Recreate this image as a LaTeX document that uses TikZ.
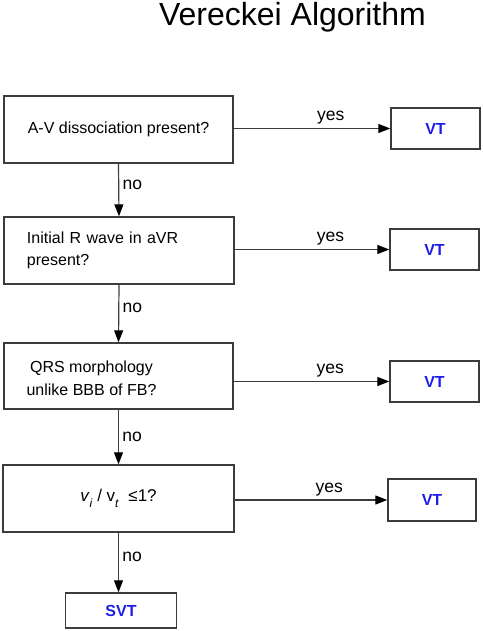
\documentclass[tikz,border=0pt]{standalone}
\usepackage{fontspec}
\setmainfont{Liberation Sans}
\usetikzlibrary{arrows.meta, positioning, calc}
\definecolor{linegray}{HTML}{3C3C3C}
\definecolor{vtblue}{HTML}{1E1EE6}

\begin{document}
\begin{tikzpicture}[x=1pt, y=-1pt, >={Triangle[length=12pt, width=9pt, color=black]},
  every node/.style={font=\fontsize{16}{22}\selectfont},
  qbox/.style={draw=linegray, line width=1.4pt, minimum width=229pt, minimum height=67pt, inner sep=0pt},
  rbox/.style={draw=linegray, line width=1.4pt, minimum width=89pt, minimum height=41pt, inner sep=0pt,
    text=vtblue, font=\fontsize{16}{20}\selectfont\bfseries},
  flow/.style={->, draw=linegray, line width=1.2pt},
  answer/.style={font=\fontsize{17.5}{20}\selectfont}]
  \useasboundingbox (0,0) rectangle (482,631);

  % Title
  \node[anchor=base] (title) at (292.5,26) {\fontsize{32}{36}\selectfont Vereckei Algorithm};

  % Questions
  \node[qbox] (q1) at (118.5,129.5) {A-V dissociation present?};
  \node[qbox, minimum width=230pt, text width=184pt, align=left] (q2) at (119,250.5)
    {Initial R wave in aVR\\present?};
  \node[qbox, minimum height=66pt] (q3) at (118.5,376) {};
  \node[align=center, font=\fontsize{16}{23}\selectfont] (q3text) at (91.5,378.5)
    {QRS morphology\\unlike BBB of FB?};
  \node[qbox, minimum width=231pt] (q4) at (118.5,498.5)
    {\fontsize{17}{22}\selectfont\textit{v}\raisebox{-0.35em}{\fontsize{12}{12}\selectfont\textit{i}} / v\raisebox{-0.35em}{\fontsize{12}{12}\selectfont\textit{t}}\ \ ≤1?};

  % Outcomes
  \node[rbox] (vt1) at (435.5,128.5) {VT};
  \node[rbox] (vt2) at (434.5,249.5) {VT};
  \node[rbox] (vt3) at (434.5,381.5) {VT};
  \node[rbox, minimum width=88pt, minimum height=42pt] (vt4) at (432,500) {VT};
  \node[rbox, minimum width=111pt, minimum height=35pt] (svt) at (121,610.5) {SVT};

  % yes branches
  \draw[flow] (vt1.west -| q1.east) -- (vt1.west) node[answer, pos=0.62, above] {yes};
  \draw[flow] (vt2.west -| q2.east) -- (vt2.west) node[answer, pos=0.62, above] {yes};
  \draw[flow] (vt3.west -| q3.east) -- (vt3.west) node[answer, pos=0.62, above] {yes};
  \draw[flow] (vt4.west -| q4.east) -- (vt4.west) node[answer, pos=0.62, above] {yes};

  % no branches
  \draw[flow] (q1.south) -- (q2.south |- q2.north) node[answer, pos=0.4, right] {no};
  \draw[flow] (q2.south) -- (q3.north) node[answer, pos=0.4, right] {no};
  \draw[flow] (q3.south) -- (q4.north) node[answer, midway, right] {no};
  \draw[flow] (q4.south) -- (q4.south |- svt.north) node[answer, pos=0.4, right] {no};
\end{tikzpicture}
\end{document}
